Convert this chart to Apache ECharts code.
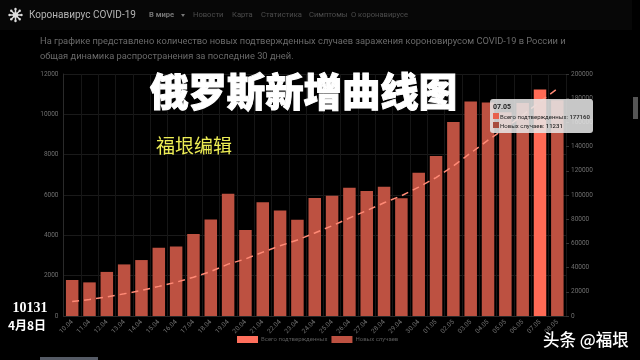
<!DOCTYPE html>
<html>
<head>
<meta charset="utf-8">
<style>
  html,body{margin:0;padding:0;background:#000;}
  #main{width:640px;height:360px;}
</style>
<script src="https://cdn.jsdelivr.net/npm/echarts@6/dist/echarts.min.js"></script>
</head>
<body>
<div id="main"></div>
<script>
var days = ['10.04','11.04','12.04','13.04','14.04','15.04','16.04','17.04','18.04','19.04','20.04','21.04','22.04','23.04','24.04','25.04','26.04','27.04','28.04','29.04','30.04','01.05','02.05','03.05','04.05','05.05','06.05','07.05','08.05'];
var newCases = [1786,1667,2186,2558,2774,3388,3448,4070,4785,6060,4268,5642,5236,4774,5849,5966,6361,6198,6411,5841,7099,7933,9623,10633,10581,10102,10559,11231,10699];
var totalCases = [11917,13584,15770,18328,21102,24490,27938,32008,36793,42853,47121,52763,57999,62773,68622,74588,80949,87147,93558,99399,106498,114431,124054,134687,145268,155370,165929,177160,187859];
var navItems = [['В мире',149,true],['Новости',193,false],['Карта',232,false],['Статистика',261,false],['Симптомы',309,false],['О коронавирусе',351,false]];
var hoverIndex = 27;

var fontName = 'Roboto, "Open Sans", sans-serif';
var cjk = '"Noto Sans CJK SC", sans-serif';
var axisGray = '#6f6f6f';

// 页面上的文字和装饰
var graphics = [
  {type:'rect', shape:{x:0,y:0,width:632,height:30}, style:{fill:'#070707'}, silent:true},
  {type:'rect', shape:{x:633,y:97,width:5,height:22}, style:{fill:'#555'}, silent:true},
  {type:'rect', shape:{x:40,y:357,width:58,height:3}, style:{fill:'#555b66'}, silent:true},
  {type:'text', x:29, y:15, style:{text:'Коронавирус COVID-19', font:'10px '+fontName, fill:'#b5b5b5', verticalAlign:'middle'}},
  {type:'text', x:40, y:42, style:{text:'На графике представлено количество новых подтвержденных случаев заражения короновирусом COVID-19 в России и', font:'9.3px '+fontName, fill:'#6a6a6a', verticalAlign:'middle'}},
  {type:'text', x:40, y:57, style:{text:'общая динамика распространения за последние 30 дней.', font:'9.3px '+fontName, fill:'#6a6a6a', verticalAlign:'middle'}},
  {type:'text', x:150, y:91, z:20, style:{text:'俄罗斯新增曲线图', font:'900 38.4px '+cjk, fill:'#fff', stroke:'#fff', lineWidth:1, verticalAlign:'middle'}},
  {type:'text', x:156, y:146, z:20, style:{text:'福垠编辑', font:'19px '+cjk, fill:'#eeee55', verticalAlign:'middle'}},
  {type:'text', x:30, y:308, z:20, style:{text:'10131', font:'bold 14px "Liberation Serif", serif', fill:'#fff', align:'center', verticalAlign:'middle'}},
  {type:'text', x:27, y:325, z:20, style:{text:'4月8日', font:'bold 12px "Noto Sans CJK SC", serif', fill:'#fff', align:'center', verticalAlign:'middle'}},
  {type:'text', x:543, y:340, z:20, style:{text:'头条 @福垠', font:'500 16.5px '+cjk, fill:'#fff', verticalAlign:'middle'}}
];
navItems.forEach(function(item){
  graphics.push({type:'text', x:item[1], y:15, style:{text:item[0], font:(item[2]?'bold ':'')+'7.6px '+fontName, fill:item[2]?'#777':'#4d4d4d', verticalAlign:'middle'}});
});
graphics.push({type:'polygon', shape:{points:[[181,14],[185,14],[183,17]]}, style:{fill:'#777'}, silent:true});
// 左上角图标
for(var i=0;i<8;i++){
  var a = i*Math.PI/4, cx = 15.5, cy = 15;
  graphics.push({type:'line', shape:{x1:cx,y1:cy,x2:cx+6*Math.cos(a),y2:cy+6*Math.sin(a)}, style:{stroke:'#ddd',lineWidth:1.5}, silent:true});
  graphics.push({type:'circle', shape:{cx:cx+6*Math.cos(a),cy:cy+6*Math.sin(a),r:1.2}, style:{fill:'#ddd'}, silent:true});
}
graphics.push({type:'circle', shape:{cx:15.5,cy:15,r:2.8}, style:{fill:'#ddd'}, silent:true});

var barData = newCases.map(function(v,i){
  return i == hoverIndex ? {value:v, itemStyle:{color:'#ff6a55'}} : v;
});
var plainNumber = function(v){ return String(v); };

var chart = echarts.init(document.getElementById('main'));
chart.setOption({
  backgroundColor:'#000',
  animation:false,
  graphic:graphics,
  grid:{left:63.5, right:74, top:74, bottom:44, containLabel:false},
  tooltip:{
    trigger:'axis',
    axisPointer:{type:'none'},
    transitionDuration:0,
    backgroundColor:'rgba(232,232,232,0.86)',
    borderWidth:0,
    padding:[3,3],
    textStyle:{fontFamily:fontName,fontSize:6,color:'#222'},
    extraCssText:'border-radius:3px;box-shadow:none;line-height:9px;white-space:nowrap;',
    position:function(){ return [490,99]; },
    formatter:function(params){
      var s = '<b style="font-size:7px">'+params[0].name+'</b>';
      [['#e8604c',params[0]],['#a84c3e',params[1]]].forEach(function(r){
        s += '<br/><span style="display:inline-block;width:6px;height:6px;margin-right:1px;background:'+r[0]+'"></span>'+r[1].seriesName+': <b style="font-weight:500">'+r[1].value+'</b>';
      });
      return s;
    }
  },
  legend:{
    left:237, top:336, padding:0, itemWidth:21, itemHeight:7, itemGap:4,
    icon:'rect',
    textStyle:{color:'#5a5a5a',fontSize:6,fontFamily:fontName,padding:[0,0,0,-2]},
    data:['Всего подтвержденных','Новых случаев']
  },
  xAxis:{
    type:'category',
    data:days,
    axisLine:{lineStyle:{color:'#2a2a2a'}},
    axisTick:{show:false},
    axisLabel:{color:axisGray,fontSize:6.5,rotate:45,interval:0,margin:5,fontFamily:fontName},
    splitLine:{show:true,lineStyle:{color:'#161616'}}
  },
  yAxis:[
    {type:'value',min:0,max:12000,interval:2000,
      axisLine:{show:true,lineStyle:{color:'#2a2a2a'}},axisTick:{show:false},
      axisLabel:{color:axisGray,fontSize:6.5,margin:5,fontFamily:fontName,formatter:plainNumber},
      splitLine:{lineStyle:{color:'#1a1a1a'}}},
    {type:'value',min:0,max:200000,interval:20000,
      axisLine:{show:false},axisTick:{show:true,length:3,lineStyle:{color:'#333'}},
      axisLabel:{color:axisGray,fontSize:6.5,margin:5,fontFamily:fontName,formatter:plainNumber},
      splitLine:{show:false}}
  ],
  series:[
    {name:'Всего подтвержденных',type:'line',yAxisIndex:1,data:totalCases,z:5,
      symbol:'none',
      itemStyle:{color:'#ff6f5c'},
      lineStyle:{color:'#ff8a76',width:1.5,type:[7,5]},
      emphasis:{disabled:true}},
    {name:'Новых случаев',type:'bar',yAxisIndex:0,data:barData,barWidth:12.5,z:2,
      itemStyle:{color:'#bd5141'},
      emphasis:{disabled:true}}
  ]
});
chart.dispatchAction({type:'showTip',seriesIndex:1,dataIndex:hoverIndex});
</script>
</body>
</html>
